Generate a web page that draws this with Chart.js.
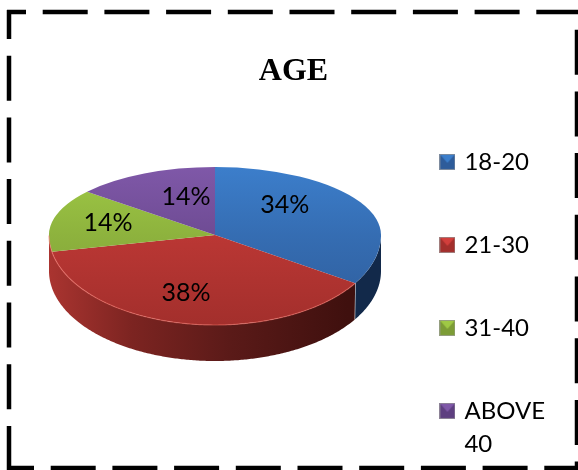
<!DOCTYPE html>
<html>
<head>
<meta charset="utf-8">
<style>
html, body { margin: 0; padding: 0; background: #fff; }
canvas { display: block; }
</style>
<script src="https://cdn.jsdelivr.net/npm/chart.js@4/dist/chart.umd.js"></script>
</head>
<body>
<canvas id="age" width="578" height="470"></canvas>
<script>
var categories = ['18-20', '21-30', '31-40', ['ABOVE', '40']];
var shares = [34, 38, 14, 14];
var percentLabels = ['34%', '38%', '14%', '14%'];

var faceTop = ['#3c7ecb', '#d23f3c', '#9fc945', '#7f58a8'];
var faceBottom = ['#2e5c9a', '#a32f2c', '#7c9c36', '#5e3f80'];

// where the flattened pie sits on the page
var pie = { x: 215, y: 235, rx: 166, ryUp: 68, ryDown: 90, depth: 36 };
// label position inside each slice, as a fraction of the radius
var labelFx = [0.48, 0.93, 0.665, 0.41];
var labelFy = [0.915, 0.656, 0.71, 0.62];

function marker(i) {
	var c = document.createElement('canvas');
	c.width = 16; c.height = 16;
	var g = c.getContext('2d');
	g.fillStyle = faceBottom[i];
	g.fillRect(0, 0, 16, 16);
	g.fillStyle = faceTop[i];
	g.beginPath();
	g.moveTo(1, 1); g.lineTo(15, 1); g.lineTo(8, 9);
	g.fill();
	g.strokeStyle = 'rgba(160,160,160,0.7)';
	g.strokeRect(0.5, 0.5, 15, 15);
	return c;
}

function faceFill(c) {
	var a = c.chart.chartArea;
	if (!a) return faceTop[c.dataIndex];
	var r = Math.min(a.right - a.left, a.bottom - a.top) / 2;
	var cy = (a.top + a.bottom) / 2;
	var grad = c.chart.ctx.createLinearGradient(0, cy - r, 0, cy + r);
	grad.addColorStop(0, faceTop[c.dataIndex]);
	grad.addColorStop(1, faceBottom[c.dataIndex]);
	return grad;
}

function wall(ctx, a0, a1, fill) {
	ctx.beginPath();
	for (var a = a0; a < a1; a += 0.01) {
		ctx.lineTo(pie.x + pie.rx * Math.cos(a), pie.y + pie.ryDown * Math.sin(a));
	}
	for (var b = a1; b > a0; b -= 0.01) {
		ctx.lineTo(pie.x + pie.rx * Math.cos(b), pie.y + pie.ryDown * Math.sin(b) + pie.depth);
	}
	ctx.closePath();
	ctx.fillStyle = fill;
	ctx.fill();
}

function dashes(ctx, x0, y0, x1, y1, offset) {
	ctx.lineDashOffset = offset;
	ctx.beginPath();
	ctx.moveTo(x0, y0);
	ctx.lineTo(x1, y1);
	ctx.stroke();
}

var frame = {
	id: 'frame',
	beforeDraw: function(chart) {
		var ctx = chart.ctx;
		ctx.save();
		ctx.strokeStyle = '#000';
		ctx.lineWidth = 4.5;
		ctx.setLineDash([45, 16.7]);
		dashes(ctx, 7, 12, 578, 12, 26);
		dashes(ctx, 9, 10, 9, 470, 16);
		dashes(ctx, 7, 468, 578, 468, 18);
		dashes(ctx, 577, 12, 577, 470, 44);
		ctx.restore();
	}
};

var pie3d = {
	id: 'pie3d',
	beforeDatasetDraw: function(chart, args) {
		var ctx = chart.ctx;
		var meta = args.meta;
		var arcs = meta.data;

		// only the blue and red slices show a wall
		var redWall = ctx.createLinearGradient(pie.x - pie.rx, 0, pie.x + pie.rx, 0);
		redWall.addColorStop(0, '#aa3430');
		redWall.addColorStop(0.25, '#7c2421');
		redWall.addColorStop(0.55, '#5a1a18');
		redWall.addColorStop(0.9, '#3f100e');
		wall(ctx, Math.max(arcs[0].startAngle, 0), arcs[0].endAngle, '#12294a');
		wall(ctx, arcs[1].startAngle, Math.PI, redWall);

		// the near half of the disc is drawn bigger than the far half
		var halves = [
			{ ry: pie.ryUp, top: pie.y - pie.ryUp - 2, h: pie.ryUp + 2 },
			{ ry: pie.ryDown, top: pie.y, h: pie.ryDown + 2 }
		];
		halves.forEach(function(half) {
			var r = arcs[0].outerRadius;
			ctx.save();
			ctx.beginPath();
			ctx.rect(0, half.top, chart.width, half.h);
			ctx.clip();
			ctx.translate(pie.x, pie.y);
			ctx.scale(pie.rx / r, half.ry / r);
			ctx.translate(-arcs[0].x, -arcs[0].y);
			meta.controller.draw();
			ctx.restore();
		});

		// lit rim along the front of the red slice
		ctx.save();
		ctx.strokeStyle = 'rgba(240,110,100,0.55)';
		ctx.lineWidth = 1.2;
		ctx.beginPath();
		for (var a = arcs[1].startAngle; a < Math.PI; a += 0.01) {
			ctx.lineTo(pie.x + pie.rx * Math.cos(a), pie.y + pie.ryDown * Math.sin(a));
		}
		ctx.stroke();
		ctx.restore();
		return false;
	},
	afterDatasetsDraw: function(chart) {
		var ctx = chart.ctx;
		var arcs = chart.getDatasetMeta(0).data;
		ctx.save();
		ctx.fillStyle = '#000';
		ctx.font = '25px Lato';
		ctx.textAlign = 'center';
		ctx.textBaseline = 'middle';
		arcs.forEach(function(arc, i) {
			var mid = (arc.startAngle + arc.endAngle) / 2;
			var c = Math.cos(mid), s = Math.sin(mid);
			var x = pie.x + pie.rx * labelFx[i] * c;
			var y = pie.y + (s > 0 ? pie.ryDown : pie.ryUp) * labelFy[i] * s;
			ctx.fillText(percentLabels[i], x, y);
		});
		ctx.restore();
	}
};

var ctx = document.getElementById('age').getContext('2d');
var chart = new Chart(ctx, {
	type: 'pie',
	data: {
		labels: categories,
		datasets: [{
			label: 'AGE',
			data: shares,
			backgroundColor: faceFill,
			borderWidth: 0
		}]
	},
	options: {
		responsive: false,
		animation: false,
		layout: { padding: { left: 32, top: 0, right: 23, bottom: -146 } },
		plugins: {
			tooltip: { enabled: false },
			title: {
				display: true,
				text: 'AGE',
				color: '#000',
				font: { family: 'Liberation Serif', size: 32, weight: 'bold' },
				padding: { top: 53, bottom: -50 }
			},
			legend: {
				position: 'right',
				labels: {
					color: '#000',
					font: { family: 'Lato', size: 24, lineHeight: 1.4 },
					usePointStyle: true,
					boxWidth: 10,
					padding: 59,
					generateLabels: function(c) {
						return categories.map(function(t, i) {
							return { text: t, pointStyle: marker(i), index: i, fontColor: '#000' };
						});
					}
				}
			}
		}
	},
	plugins: [frame, pie3d]
});
</script>
</body>
</html>
